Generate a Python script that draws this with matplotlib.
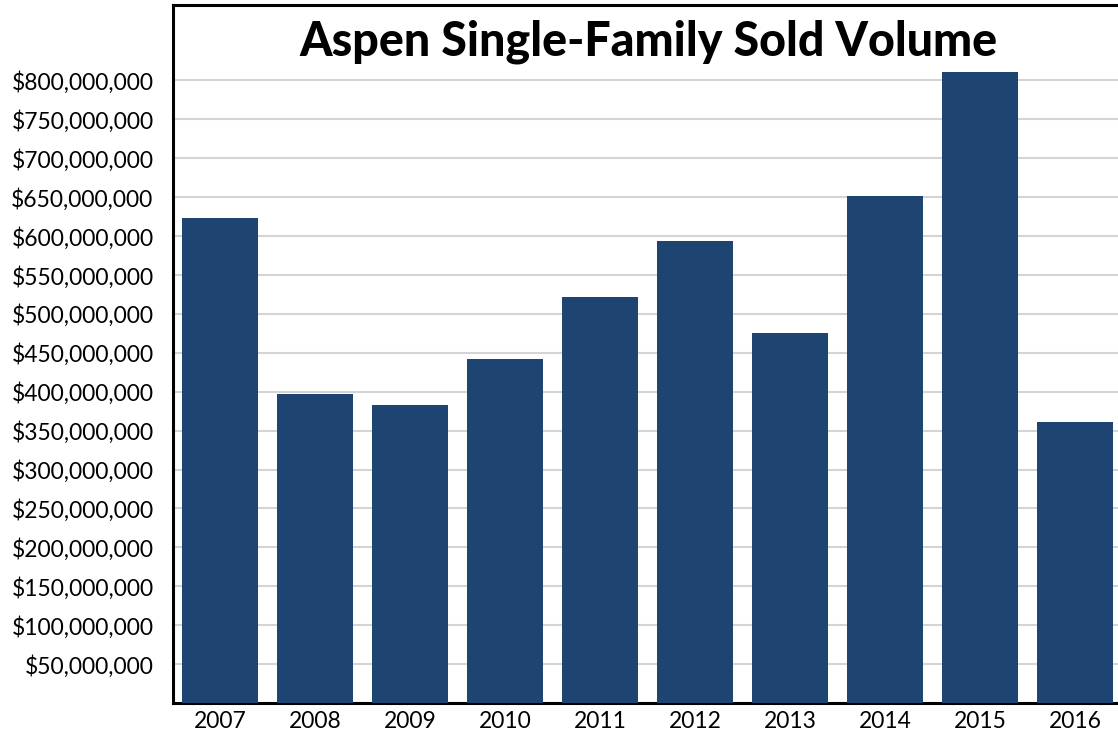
import sys

from matplotlib import pyplot as plt
from matplotlib.ticker import FuncFormatter

import numpy as np

#######################################################

years = ['2007', '2008', '2009', '2010', '2011', '2012', '2013', '2014', '2015', '2016']

sold_volume = [623.5e6, 397.5e6, 383.0e6, 442.0e6, 522.0e6,
               594.0e6, 476.0e6, 652.0e6, 810.5e6, 360.5e6]

y_ticks = np.arange(50e6, 800e6 + 1, 50e6)

TITLE = 'Aspen Single-Family Sold Volume'

BAR_COLOR = '#1e4572'

#######################################################

def dollars(v, pos):
    return '${:,.0f}'.format(v)


def main():

    plt.rcParams['font.family'] = ['Lato', 'DejaVu Sans']

    W, H = 1118, 736
    fig = plt.figure(figsize=(W / 100, H / 100), dpi=100)

    # axes runs slightly past the right edge of the figure
    x0, x1 = 173, 1122.5
    y0, y1 = 703, 5
    ax = fig.add_axes([x0 / W, 1 - y0 / H, (x1 - x0) / W, (y0 - y1) / H])

    x = np.arange(len(years))
    ax.bar(x, sold_volume, width=0.8, color=BAR_COLOR, zorder=3)

    ax.set_xlim(-0.5, len(years) - 0.5)
    ax.set_ylim(0, 897e6)

    ax.set_xticks(x)
    ax.set_xticklabels(years)
    ax.set_yticks(y_ticks)
    ax.yaxis.set_major_formatter(FuncFormatter(dollars))

    ax.tick_params(axis='both', length=0, labelsize=16.5)
    ax.tick_params(axis='y', pad=14)
    ax.tick_params(axis='x', pad=6)

    ax.grid(axis='y', color='#d4d4d4', linewidth=1.5, zorder=0)
    ax.set_axisbelow(True)

    for s in ['left', 'top', 'bottom']:
        ax.spines[s].set_linewidth(2.2)
        ax.spines[s].set_color('black')
    ax.spines['bottom'].set_zorder(2)
    ax.spines['right'].set_visible(False)

    ax.text(0.501, 0.947, TITLE, transform=ax.transAxes, ha='center', va='center',
            fontsize=33.5, fontweight='black')

    fig.savefig('out.png', dpi=100)


#######################################################

if __name__ == '__main__':
    sys.exit(main())
